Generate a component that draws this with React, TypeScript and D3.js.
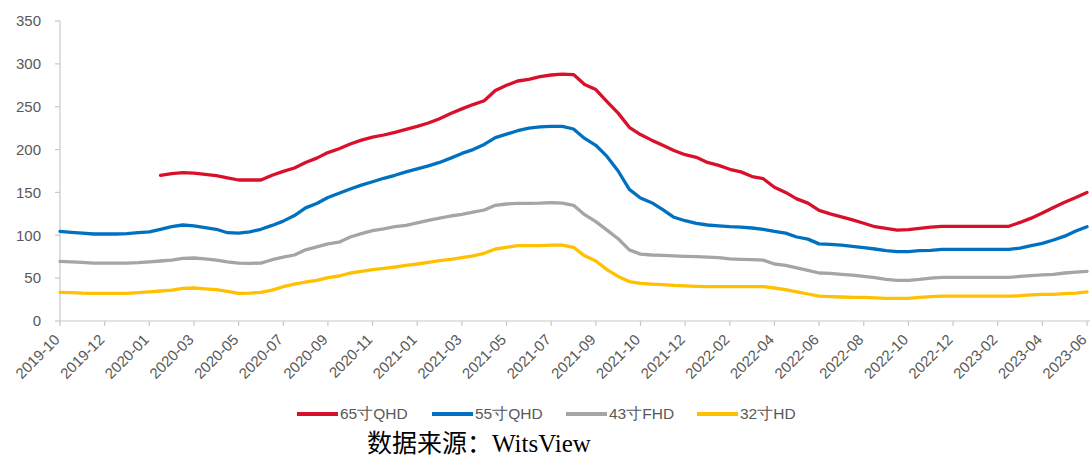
import React from "react";
import * as d3 from "d3";

// ---- data ----
const tickLabels = [
  "2019-10", "2019-12", "2020-01", "2020-03", "2020-05", "2020-07", "2020-09", "2020-11",
  "2021-01", "2021-03", "2021-05", "2021-07", "2021-09", "2021-10", "2021-12", "2022-02",
  "2022-04", "2022-06", "2022-08", "2022-10", "2022-12", "2023-02", "2023-04", "2023-06",
];
const labelStep = 4;
const yTicks = [0, 50, 100, 150, 200, 250, 300, 350];

const seriesNames = ["65寸QHD", "55寸QHD", "43寸FHD", "32寸HD"];

const s65: (number | null)[] = [
  null, null, null, null, null, null, null, null, null, 170,
  172, 173, 172.5, 171, 169.5, 167, 164.5, 164.5, 164.5, 170,
  174.5, 178.5, 185, 190, 196.5, 201, 206.5, 211, 214.5, 217,
  220, 223.5, 227, 231, 236, 242, 247.5, 252.5, 257, 269,
  275, 280, 282, 285, 287, 288, 287.5, 276, 270, 256,
  242.5, 226, 217.5, 211, 205, 199, 194, 191, 185, 181.5,
  177, 174, 168.5, 166, 156, 150, 142.5, 137.5, 129, 125,
  121.5, 118, 114, 110, 108, 106, 106.5, 108, 109.5, 110.5,
  110.5, 110.5, 110.5, 110.5, 110.5, 110.5, 115, 120, 126, 132.5,
  138.5, 144, 150,
];
const s55: number[] = [
  104.5, 103.5, 102.5, 101.5, 101.5, 101.5, 102, 103, 104, 107,
  110, 112, 111, 109, 107, 103, 102.5, 104, 107, 111.5,
  116.5, 123, 132, 137, 144, 149, 154, 158.5, 162.5, 166.5,
  170, 174, 177.5, 181, 185, 190, 195.5, 200, 206, 214,
  218, 222, 225, 226.5, 227, 227, 224, 213, 205, 192,
  175, 153.5, 143.5, 138, 130, 121, 117, 114, 112, 111,
  110, 109.5, 108.5, 107, 104.5, 102.5, 98, 95.5, 90, 89.5,
  88.5, 87, 85.5, 84, 82, 81, 81, 82, 82.5, 83.5,
  83.5, 83.5, 83.5, 83.5, 83.5, 83.5, 85, 88, 90.5, 94.5,
  99, 105, 110,
];
const s43: number[] = [
  69.5, 69, 68.5, 67.5, 67.5, 67.5, 67.5, 68, 69, 70,
  71, 73, 73.5, 72.5, 71, 69, 67.5, 67.3, 67.5, 71.5,
  74.5, 77, 83, 86.5, 90, 92, 98, 102, 105.5, 107.5,
  110, 111.5, 114.5, 117.5, 120, 122.5, 124.5, 127, 129.5, 135,
  136.5, 137.3, 137.3, 137.5, 138, 137.5, 135, 124, 116, 106,
  96, 83, 78, 77, 76.5, 76, 75.5, 75, 74.5, 74,
  72.5, 72, 71.5, 71, 66.5, 65, 62, 59, 56, 55.5,
  54.5, 53.5, 52, 50.5, 48.5, 47.5, 47.5, 48.5, 50, 51,
  51, 51, 51, 51, 51, 51, 52, 53, 53.7, 54.5,
  56, 57, 58,
];
const s32: number[] = [
  33.5, 33, 32.5, 32.3, 32.3, 32.3, 32.3, 33, 34, 35,
  36, 38, 38.5, 37.5, 36.5, 34.5, 32.3, 32.5, 33.5, 36,
  40, 43, 45.5, 47.5, 50.5, 52.5, 56, 58, 60, 61.5,
  63, 65, 66.5, 68.5, 70.5, 72, 74, 76, 79, 84,
  86, 88, 88, 88, 88.5, 88.5, 86, 76, 70, 60,
  52, 46, 44, 43, 42.5, 41.5, 41, 40.5, 40, 40,
  40, 40, 40, 40, 38.5, 36.5, 34, 31.5, 29, 28.5,
  28, 27.5, 27.5, 27, 26.5, 26.5, 26.5, 27.5, 28.5, 29,
  29, 29, 29, 29, 29, 29, 29.5, 30.5, 31, 31,
  32, 32.5, 34,
];

const seriesValues = [s65, s55, s43, s32];
const colors = ["#d9102a", "#0070c0", "#a5a5a5", "#ffc000"];

// ---- layout ----
const W = 1091;
const H = 456;
const left = 60;
const right = 1087;
const top = 21;
const bottom = 321;
const textColor = "#595959";
const axisColor = "#c8c8c8";
const font = "'Liberation Sans', Arial, sans-serif";

export default function App() {
  const n = s55.length;
  const x = d3.scaleLinear().domain([0, n - 1]).range([left, right]);
  const y = d3.scaleLinear().domain([0, 350]).range([bottom, top]);

  const line = d3
    .line<number | null>()
    .defined((d) => d != null)
    .x((_, i) => x(i))
    .y((d) => y(d as number));

  const legendX = [297, 432, 566, 697];

  return (
    <svg
      width={W}
      height={H}
      style={{ position: "absolute", left: 0, top: 0, background: "#fff" }}
      fontFamily={font}
    >
      {/* y axis */}
      <line x1={left} x2={left} y1={top} y2={bottom} stroke={axisColor} strokeWidth={1.2} />
      {yTicks.map((t) => (
        <g key={t}>
          <line x1={left - 5} x2={left} y1={y(t)} y2={y(t)} stroke={axisColor} strokeWidth={1.2} />
          <text x={41} y={y(t)} dy="0.35em" textAnchor="end" fontSize={15} fill={textColor}>
            {t}
          </text>
        </g>
      ))}
      {/* x axis */}
      <line x1={left} x2={right + 3} y1={bottom} y2={bottom} stroke={axisColor} strokeWidth={1.2} />
      {tickLabels.map((lab, k) => {
        const xi = x(k * labelStep);
        return (
          <g key={lab}>
            <line x1={xi} x2={xi} y1={bottom} y2={bottom + 5} stroke={axisColor} strokeWidth={1.2} />
            <text
              transform={`translate(${xi - 3},${337}) rotate(-45)`}
              dy="0.35em"
              textAnchor="end"
              fontSize={15}
              fill={textColor}
            >
              {lab}
            </text>
          </g>
        );
      })}
      {/* series */}
      {seriesValues.map((vals, si) => (
        <path
          key={si}
          d={line(vals) || ""}
          fill="none"
          stroke={colors[si]}
          strokeWidth={3.3}
          strokeLinejoin="round"
          strokeLinecap="round"
        />
      ))}
      {/* legend */}
      {seriesNames.map((name, si) => (
        <g key={name} transform={`translate(${legendX[si]},414)`}>
          <line x1={0} x2={41} y1={0} y2={0} stroke={colors[si]} strokeWidth={4} />
          <text x={43} y={0} dy="0.35em" fontSize={15.5} fill={textColor}>
            {name}
          </text>
        </g>
      ))}
      {/* source */}
      <text
        x={367}
        y={452}
        fontSize={25}
        fill="#000"
        fontFamily="'Liberation Serif', 'Times New Roman', 'Noto Sans CJK SC', serif"
      >
        数据来源：WitsView
      </text>
    </svg>
  );
}
